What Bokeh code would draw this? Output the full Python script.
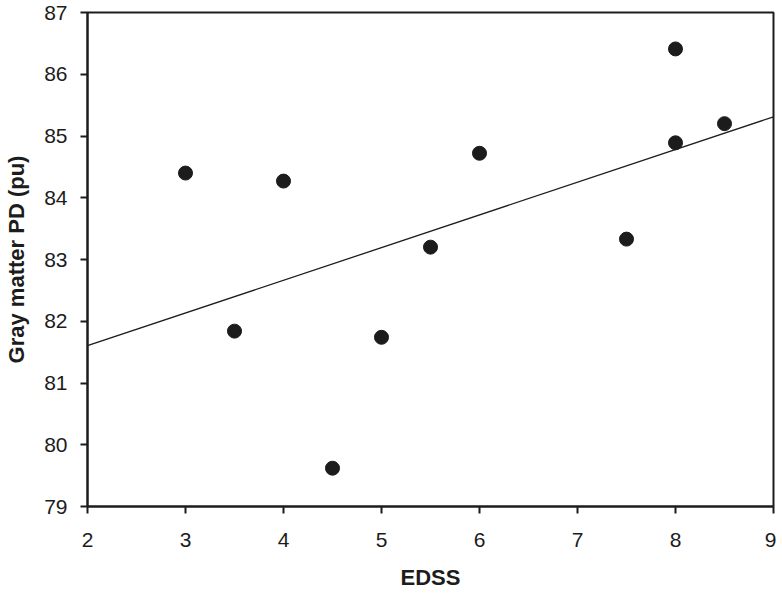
import numpy as np
from bokeh.plotting import figure
from bokeh.models import FixedTicker, Range1d
from bokeh.embed import file_html
from bokeh.resources import INLINE

# Data
edss = [3.0, 3.5, 4.0, 4.5, 5.0, 5.5, 6.0, 7.5, 8.0, 8.0, 8.5]
gm_pd = [84.40, 81.84, 84.27, 79.62, 81.74, 83.20, 84.72, 83.33, 84.89, 86.41, 85.20]
x_ticks = [2, 3, 4, 5, 6, 7, 8, 9]
y_ticks = [79, 80, 81, 82, 83, 84, 85, 86, 87]
x_title = "EDSS"
y_title = "Gray matter PD (pu)"

# Linear regression line computed from the data
slope, intercept = np.polyfit(edss, gm_pd, 1)
fit_x = [x_ticks[0], x_ticks[-1]]
fit_y = [slope * v + intercept for v in fit_x]

INK = "#1c1c1c"

p = figure(width=776, height=593, output_backend="svg", toolbar_location=None,
           x_range=Range1d(x_ticks[0], x_ticks[-1]), y_range=Range1d(y_ticks[0], y_ticks[-1]),
           min_border_left=87, min_border_top=12, min_border_right=3, min_border_bottom=87)

p.line(fit_x, fit_y, line_color=INK, line_width=1.3)
p.scatter(edss, gm_pd, size=14, fill_color=INK, line_color=INK)

p.xgrid.visible = False
p.ygrid.visible = False
p.outline_line_color = INK
p.outline_line_width = 2
p.outline_line_alpha = 1
p.background_fill_color = "white"
p.border_fill_color = "white"

p.xaxis.ticker = FixedTicker(ticks=x_ticks)
p.yaxis.ticker = FixedTicker(ticks=y_ticks)
for ax in (p.xaxis[0], p.yaxis[0]):
    ax.axis_line_color = INK
    ax.axis_line_width = 2
    ax.major_tick_line_color = INK
    ax.major_tick_line_width = 2
    ax.major_tick_in = 0
    ax.major_tick_out = 7
    ax.minor_tick_line_color = None
    ax.major_label_text_font = "Liberation Sans"
    ax.major_label_text_font_size = "21px"
    ax.major_label_text_color = INK
    ax.axis_label_text_font = "Liberation Sans"
    ax.axis_label_text_font_size = "22px"
    ax.axis_label_text_font_style = "bold"
    ax.axis_label_text_color = INK

p.xaxis.axis_label = x_title
p.yaxis.axis_label = y_title
p.xaxis.major_label_standoff = 19
p.yaxis.major_label_standoff = 13
p.xaxis.axis_label_standoff = 15
p.yaxis.axis_label_standoff = 12

open("out.html", "w").write(file_html(p, INLINE))
